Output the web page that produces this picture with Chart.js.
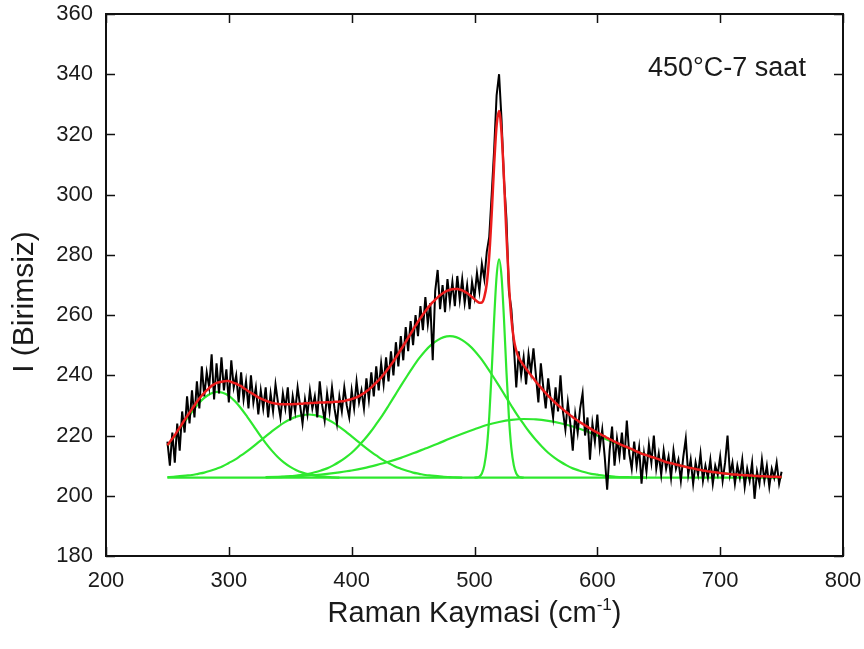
<!DOCTYPE html>
<html>
<head>
<meta charset="utf-8">
<script src="https://cdn.jsdelivr.net/npm/chart.js@4.4.1/dist/chart.umd.min.js"></script>
<style>
  html, body { margin: 0; padding: 0; background: #fff; }
  canvas { display: block; }
</style>
</head>
<body>
<canvas id="raman" width="864" height="649"></canvas>
<script>
// measured spectrum, sampled every 2 cm-1 from 250 to 750
const rawStart = 250, rawStep = 2;
const measured = [
  218, 210, 221, 211, 224, 215, 228, 221, 233, 224,
  235, 226, 238, 229, 243, 233, 241, 236, 247, 232,
  244, 234, 246, 235, 242, 231, 245, 236, 240, 231,
  241, 232, 238, 229, 240, 231, 236, 227, 235, 229,
  236, 226, 234, 228, 237, 231, 226, 234, 229, 236,
  225, 233, 228, 236, 230, 224, 232, 227, 235, 229,
  233, 226, 238, 230, 225, 234, 228, 236, 229, 224,
  233, 228, 236, 230, 226, 235, 229, 238, 231, 235,
  229, 239, 232, 241, 233, 243, 235, 244, 237, 246,
  238, 248, 240, 251, 243, 253, 245, 256, 248, 258,
  250, 260, 253, 263, 255, 266, 257, 264, 245, 268,
  275, 262, 270, 261, 272, 264, 271, 263, 273, 265,
  272, 264, 270, 262, 271, 266, 274, 268, 277, 272,
  281, 286, 300, 315, 333, 340, 325, 305, 292, 268,
  262, 250, 236, 248, 240, 246, 237, 247, 241, 249,
  240, 231, 244, 236, 229, 239, 232, 226, 236, 228,
  240, 228, 222, 231, 224, 215, 227, 221, 229, 234,
  220, 226, 212, 224, 218, 227, 216, 222, 213, 202,
  215, 223, 210, 219, 213, 221, 212, 225, 214, 209,
  218, 210, 216, 204, 214, 208, 217, 211, 220, 209,
  214, 207, 215, 209, 213, 206, 215, 209, 212, 205,
  213, 219, 207, 212, 204, 211, 207, 214, 205, 210,
  206, 212, 204, 210, 207, 213, 205, 211, 220, 207,
  211, 204, 210, 206, 212, 203, 209, 205, 211, 199,
  208, 204, 212, 205, 210, 203, 209, 206, 211, 204,
  208
];

// total fit, same grid as the measured spectrum
const fitTotal = [
  216.8, 217.9, 219.0, 220.1, 221.4, 222.6, 223.9, 225.2, 226.4, 227.6,
  228.8, 230.0, 231.2, 232.3, 233.3, 234.2, 235.0, 235.8, 236.5, 237.0,
  237.5, 237.7, 237.9, 238.0, 238.1, 238.1, 237.8, 237.5, 237.2, 236.8,
  236.4, 235.8, 235.3, 234.7, 234.2, 233.7, 233.2, 232.7, 232.3, 231.9,
  231.6, 231.3, 231.0, 230.8, 230.6, 230.5, 230.4, 230.4, 230.4, 230.4,
  230.4, 230.4, 230.5, 230.5, 230.6, 230.6, 230.7, 230.7, 230.8, 230.8,
  230.9, 230.9, 231.0, 231.0, 231.0, 231.1, 231.1, 231.1, 231.2, 231.2,
  231.3, 231.4, 231.5, 231.7, 231.9, 232.1, 232.4, 232.7, 233.1, 233.6,
  234.1, 234.7, 235.3, 236.0, 236.8, 237.6, 238.4, 239.3, 240.3, 241.3,
  242.4, 243.5, 244.7, 245.9, 247.2, 248.5, 249.8, 251.1, 252.5, 253.8,
  255.2, 256.5, 257.8, 259.0, 260.2, 261.3, 262.4, 263.4, 264.3, 265.1,
  265.9, 266.6, 267.2, 267.7, 268.1, 268.4, 268.6, 268.7, 268.7, 268.5,
  268.2, 267.8, 267.3, 266.7, 266.0, 265.3, 264.6, 264.1, 264.2, 266.0,
  270.5, 279.7, 293.7, 310.0, 323.0, 327.8, 320.7, 305.3, 286.7, 270.4,
  258.9, 252.0, 248.2, 245.9, 244.5, 243.3, 242.2, 241.1, 240.0, 239.0,
  237.9, 236.9, 236.0, 235.0, 234.1, 233.2, 232.4, 231.6, 230.8, 230.1,
  229.4, 228.7, 228.0, 227.4, 226.7, 226.1, 225.5, 225.0, 224.4, 223.9,
  223.4, 222.9, 222.4, 221.9, 221.4, 221.0, 220.6, 220.1, 219.7, 219.2,
  218.8, 218.4, 218.0, 217.6, 217.2, 216.8, 216.5, 216.2, 215.8, 215.5,
  215.1, 214.7, 214.4, 214.0, 213.7, 213.5, 213.2, 212.9, 212.7, 212.4,
  212.1, 211.8, 211.5, 211.2, 211.0, 210.8, 210.6, 210.4, 210.2, 210.0,
  209.8, 209.6, 209.4, 209.2, 209.1, 208.9, 208.7, 208.6, 208.4, 208.3,
  208.1, 208.0, 207.9, 207.8, 207.7, 207.6, 207.5, 207.4, 207.3, 207.2,
  207.1, 207.1, 207.0, 206.9, 206.9, 206.8, 206.8, 206.7, 206.7, 206.6,
  206.6, 206.5, 206.5, 206.5, 206.4, 206.4, 206.3, 206.3, 206.3, 206.2,
  206.2
];

// fitted components (start, step, values)
const peak290 = { start: 250, step: 5, values: [
  216.5, 219.2, 222.1, 225.1, 227.9, 230.5, 232.5, 233.9, 234.5, 234.2,
  233.2, 231.4, 229.0, 226.2, 223.3, 220.3, 217.5, 215.0, 212.8, 211.0,
  209.6, 208.5, 207.7, 207.1, 206.7, 206.4, 206.3, 206.1, 206.0
]};
const peak365 = { start: 250, step: 5, values: [
  206.2, 206.3, 206.5, 206.7, 206.9, 207.3, 207.7, 208.3, 209.0, 209.8,
  210.9, 212.0, 213.4, 214.8, 216.4, 218.1, 219.7, 221.4, 222.9, 224.3,
  225.4, 226.3, 226.8, 227.0, 226.8, 226.3, 225.4, 224.3, 222.9, 221.4,
  219.7, 218.1, 216.4, 214.8, 213.4, 212.0, 210.9, 209.8, 209.0, 208.3,
  207.7, 207.3, 206.9, 206.7, 206.5, 206.3, 206.2, 206.1, 206.0
]};
const peak480 = { start: 330, step: 5, values: [
  206.1, 206.2, 206.2, 206.3, 206.5, 206.7, 207.0, 207.3, 207.8, 208.4,
  209.1, 210.1, 211.3, 212.7, 214.3, 216.3, 218.5, 221.0, 223.8, 226.7,
  229.9, 233.2, 236.5, 239.7, 242.8, 245.7, 248.2, 250.2, 251.7, 252.7,
  253.0, 252.7, 251.7, 250.2, 248.2, 245.7, 242.8, 239.7, 236.5, 233.2,
  229.9, 226.7, 223.8, 221.0, 218.5, 216.3, 214.3, 212.7, 211.3, 210.1,
  209.1, 208.4, 207.8, 207.3, 207.0, 206.7, 206.5, 206.3, 206.2, 206.2,
  206.1, 206.1, 206.0
]};
const peak520 = { start: 500, step: 2, values: [
  206.0, 206.1, 206.4, 207.4, 210.1, 215.8, 226.2, 241.3, 258.7, 272.9,
  278.5, 272.9, 258.7, 241.3, 226.2, 215.8, 210.1, 207.4, 206.4, 206.1,
  206.0
]};
const peak540 = { start: 330, step: 10, values: [
  206.2, 206.3, 206.4, 206.6, 206.9, 207.3, 207.8, 208.4, 209.2, 210.2,
  211.3, 212.6, 214.1, 215.7, 217.3, 219.0, 220.6, 222.1, 223.5, 224.5,
  225.2, 225.5, 225.4, 224.9, 224.1, 223.0, 221.6, 220.0, 218.3, 216.6,
  215.0, 213.5, 212.1, 210.8, 209.8, 208.9, 208.1, 207.6, 207.1, 206.8,
  206.6, 206.4, 206.2
]};
const baselineX = [250, 750];
const baselineY = [206, 206];

const xTicks = [200, 300, 400, 500, 600, 700, 800];
const yTicks = [180, 200, 220, 240, 260, 280, 300, 320, 340, 360];

const FONT = "'Liberation Sans', Arial, Helvetica, sans-serif";
const GREEN = '#2ee82e';
const RED = '#ec1c1c';

function onGrid(start, step, values) {
  return values.map((v, i) => ({ x: start + i * step, y: v }));
}

function line(data, color, width, order, smooth) {
  return {
    data: data,
    borderColor: color,
    backgroundColor: 'transparent',
    borderWidth: width,
    pointRadius: 0,
    fill: false,
    tension: smooth ? 0.4 : 0,
    cubicInterpolationMode: smooth ? 'monotone' : 'default',
    order: order
  };
}

// frame, inward ticks on all sides, titles and the sample label
const framePlugin = {
  id: 'frame',
  afterDraw(chart) {
    const { ctx, chartArea: a, scales } = chart;
    const tl = 9;
    ctx.save();
    ctx.strokeStyle = '#111';
    ctx.lineWidth = 2;
    ctx.strokeRect(a.left, a.top, a.right - a.left, a.bottom - a.top);
    ctx.lineWidth = 1.5;
    ctx.beginPath();
    xTicks.forEach(v => {
      const px = Math.round(scales.x.getPixelForValue(v)) + 0.5;
      ctx.moveTo(px, a.bottom); ctx.lineTo(px, a.bottom - tl);
      ctx.moveTo(px, a.top); ctx.lineTo(px, a.top + tl);
    });
    yTicks.forEach(v => {
      const py = Math.round(scales.y.getPixelForValue(v)) + 0.5;
      ctx.moveTo(a.left, py); ctx.lineTo(a.left + tl, py);
      ctx.moveTo(a.right, py); ctx.lineTo(a.right - tl, py);
    });
    ctx.stroke();

    ctx.fillStyle = '#1a1a1a';
    ctx.textBaseline = 'alphabetic';

    // sample label
    ctx.font = '27px ' + FONT;
    ctx.textAlign = 'left';
    ctx.fillText('450°C-7 saat', 648, 76);

    // x title with superscript
    const mid = (a.left + a.right) / 2;
    const main = 'Raman Kaymasi (cm';
    ctx.font = '29px ' + FONT;
    const w1 = ctx.measureText(main).width;
    const w3 = ctx.measureText(')').width;
    ctx.font = '17px ' + FONT;
    const w2 = ctx.measureText('-1').width;
    let x0 = mid - (w1 + w2 + w3) / 2;
    const base = 622;
    ctx.font = '29px ' + FONT;
    ctx.fillText(main, x0, base);
    ctx.font = '17px ' + FONT;
    ctx.fillText('-1', x0 + w1, base - 12);
    ctx.font = '29px ' + FONT;
    ctx.fillText(')', x0 + w1 + w2, base);

    // y title
    ctx.translate(33, 302);
    ctx.rotate(-Math.PI / 2);
    ctx.textAlign = 'center';
    ctx.font = '30px ' + FONT;
    ctx.fillText('I (Birimsiz)', 0, 0);
    ctx.restore();
  }
};

const rawPoints = onGrid(rawStart, rawStep, measured);
const fitPoints = onGrid(rawStart, rawStep, fitTotal);

new Chart(document.getElementById('raman'), {
  type: 'line',
  data: {
    datasets: [
      line(fitPoints, RED, 2.5, 0, true),
      line(rawPoints, '#000', 2, 1, false),
      line(onGrid(peak290.start, peak290.step, peak290.values), GREEN, 2.2, 2, true),
      line(onGrid(peak365.start, peak365.step, peak365.values), GREEN, 2.2, 2, true),
      line(onGrid(peak480.start, peak480.step, peak480.values), GREEN, 2.2, 2, true),
      line(onGrid(peak520.start, peak520.step, peak520.values), GREEN, 2.2, 2, true),
      line(onGrid(peak540.start, peak540.step, peak540.values), GREEN, 2.2, 2, true),
      line(baselineX.map((x, i) => ({ x: x, y: baselineY[i] })), GREEN, 2.2, 2, false)
    ]
  },
  options: {
    responsive: false,
    animation: false,
    layout: { padding: { left: 0, right: 21, top: 14, bottom: 0 } },
    scales: {
      x: {
        type: 'linear',
        min: 200,
        max: 800,
        afterBuildTicks: s => { s.ticks = xTicks.map(v => ({ value: v })); },
        afterFit: s => { s.height = 93; s.paddingLeft = 0; s.paddingRight = 0; },
        ticks: { color: '#1a1a1a', font: { family: FONT, size: 22 }, padding: 12, maxRotation: 0 },
        grid: { display: false, drawTicks: false },
        border: { display: false }
      },
      y: {
        min: 180,
        max: 360,
        afterBuildTicks: s => { s.ticks = yTicks.map(v => ({ value: v })); },
        afterFit: s => { s.width = 106; s.paddingTop = 0; s.paddingBottom = 0; },
        ticks: { color: '#1a1a1a', font: { family: FONT, size: 22 }, padding: 13 },
        grid: { display: false, drawTicks: false },
        border: { display: false }
      }
    },
    plugins: {
      legend: { display: false },
      tooltip: { enabled: false }
    }
  },
  plugins: [framePlugin]
});
</script>
</body>
</html>
